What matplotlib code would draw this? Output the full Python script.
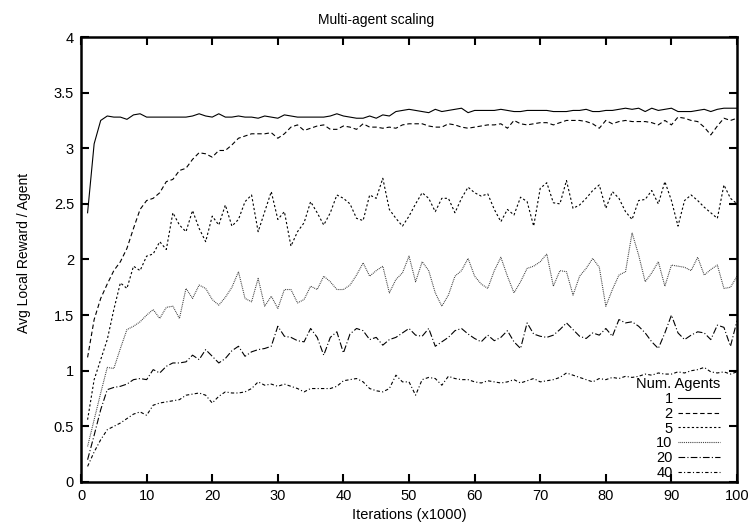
import matplotlib
matplotlib.use("Agg")
import matplotlib.pyplot as plt
from matplotlib.ticker import MultipleLocator, FormatStrFormatter

plt.rcParams['font.family'] = ['Liberation Sans', 'DejaVu Sans']

iters = list(range(1, 101))

agents = ["1", "2", "5", "10", "20", "40"]

s1 = [2.42, 3.04, 3.25, 3.29, 3.28, 3.28, 3.26, 3.30, 3.31, 3.28,
      3.28, 3.28, 3.28, 3.28, 3.28, 3.28, 3.29, 3.31, 3.29, 3.28,
      3.31, 3.28, 3.28, 3.29, 3.28, 3.28, 3.27, 3.29, 3.28, 3.27,
      3.30, 3.29, 3.28, 3.28, 3.28, 3.28, 3.28, 3.29, 3.31, 3.29,
      3.28, 3.27, 3.27, 3.29, 3.27, 3.30, 3.29, 3.33, 3.34, 3.35,
      3.34, 3.33, 3.32, 3.35, 3.33, 3.34, 3.35, 3.36, 3.32, 3.34,
      3.34, 3.34, 3.34, 3.35, 3.34, 3.33, 3.33, 3.34, 3.34, 3.34,
      3.34, 3.33, 3.33, 3.33, 3.34, 3.34, 3.35, 3.33, 3.33, 3.34,
      3.34, 3.35, 3.36, 3.35, 3.36, 3.33, 3.36, 3.34, 3.35, 3.36,
      3.33, 3.33, 3.33, 3.34, 3.35, 3.33, 3.35, 3.36, 3.36, 3.36]

s2 = [1.12, 1.46, 1.65, 1.78, 1.90, 1.98, 2.10, 2.28, 2.45, 2.53,
      2.55, 2.60, 2.70, 2.72, 2.80, 2.82, 2.90, 2.96, 2.95, 2.92,
      2.98, 2.98, 3.03, 3.09, 3.11, 3.13, 3.13, 3.13, 3.14, 3.09,
      3.13, 3.19, 3.21, 3.16, 3.18, 3.20, 3.21, 3.17, 3.17, 3.20,
      3.19, 3.17, 3.22, 3.19, 3.19, 3.18, 3.19, 3.18, 3.21, 3.22,
      3.22, 3.22, 3.20, 3.19, 3.19, 3.22, 3.21, 3.19, 3.18, 3.19,
      3.20, 3.21, 3.21, 3.22, 3.18, 3.25, 3.22, 3.21, 3.22, 3.23,
      3.23, 3.21, 3.23, 3.25, 3.25, 3.25, 3.24, 3.22, 3.18, 3.25,
      3.22, 3.24, 3.25, 3.24, 3.24, 3.24, 3.23, 3.21, 3.25, 3.21,
      3.28, 3.27, 3.25, 3.24, 3.19, 3.12, 3.20, 3.27, 3.25, 3.27]

s5 = [0.56, 0.92, 1.10, 1.28, 1.55, 1.79, 1.74, 1.94, 1.90, 2.03,
      2.05, 2.16, 2.09, 2.42, 2.31, 2.25, 2.44, 2.28, 2.16, 2.39,
      2.31, 2.49, 2.30, 2.36, 2.52, 2.58, 2.25, 2.43, 2.61, 2.36,
      2.43, 2.12, 2.25, 2.33, 2.52, 2.42, 2.31, 2.42, 2.58, 2.55,
      2.50, 2.37, 2.35, 2.58, 2.55, 2.73, 2.45, 2.37, 2.30, 2.39,
      2.50, 2.60, 2.55, 2.43, 2.55, 2.55, 2.42, 2.55, 2.65, 2.60,
      2.57, 2.59, 2.45, 2.34, 2.45, 2.40, 2.56, 2.52, 2.30, 2.64,
      2.69, 2.51, 2.50, 2.71, 2.46, 2.49, 2.55, 2.62, 2.67, 2.46,
      2.61, 2.55, 2.43, 2.36, 2.53, 2.54, 2.62, 2.50, 2.70, 2.53,
      2.30, 2.53, 2.58, 2.53, 2.47, 2.42, 2.37, 2.67, 2.55, 2.50]

s10 = [0.32, 0.56, 0.80, 1.03, 1.02, 1.20, 1.37, 1.40, 1.44, 1.50,
       1.55, 1.47, 1.57, 1.58, 1.47, 1.74, 1.65, 1.77, 1.74, 1.64,
       1.59, 1.66, 1.75, 1.89, 1.65, 1.62, 1.83, 1.58, 1.67, 1.56,
       1.73, 1.73, 1.61, 1.64, 1.76, 1.73, 1.85, 1.80, 1.73, 1.73,
       1.77, 1.86, 1.97, 1.85, 1.90, 1.94, 1.70, 1.82, 1.88, 2.03,
       1.80, 1.98, 1.90, 1.70, 1.58, 1.68, 1.85, 1.90, 2.01, 1.85,
       1.78, 1.74, 1.90, 2.02, 1.85, 1.70, 1.80, 1.92, 1.94, 1.98,
       2.05, 1.76, 1.90, 1.89, 1.68, 1.85, 1.92, 2.01, 1.93, 1.58,
       1.73, 1.86, 1.89, 2.24, 2.04, 1.80, 1.88, 1.98, 1.76, 1.95,
       1.94, 1.93, 1.90, 2.02, 1.86, 1.91, 1.95, 1.74, 1.75, 1.85]

s20 = [0.20, 0.42, 0.65, 0.83, 0.85, 0.86, 0.88, 0.92, 0.93, 0.92,
       1.01, 0.98, 1.04, 1.07, 1.07, 1.08, 1.14, 1.10, 1.19, 1.13,
       1.07, 1.11, 1.18, 1.22, 1.13, 1.17, 1.19, 1.20, 1.22, 1.40,
       1.31, 1.30, 1.27, 1.26, 1.38, 1.30, 1.14, 1.30, 1.35, 1.16,
       1.33, 1.38, 1.36, 1.28, 1.30, 1.23, 1.28, 1.30, 1.34, 1.38,
       1.32, 1.31, 1.38, 1.22, 1.26, 1.30, 1.36, 1.38, 1.33, 1.29,
       1.26, 1.32, 1.27, 1.30, 1.36, 1.26, 1.20, 1.43, 1.33, 1.31,
       1.30, 1.32, 1.37, 1.43, 1.37, 1.31, 1.29, 1.34, 1.32, 1.38,
       1.31, 1.46, 1.43, 1.44, 1.40, 1.34, 1.26, 1.20, 1.34, 1.50,
       1.34, 1.28, 1.32, 1.35, 1.34, 1.28, 1.41, 1.39, 1.22, 1.45]

s40 = [0.14, 0.27, 0.38, 0.47, 0.50, 0.53, 0.57, 0.61, 0.63, 0.60,
       0.69, 0.71, 0.72, 0.73, 0.74, 0.78, 0.79, 0.80, 0.78, 0.71,
       0.77, 0.81, 0.80, 0.80, 0.81, 0.84, 0.90, 0.87, 0.88, 0.86,
       0.88, 0.86, 0.84, 0.81, 0.84, 0.84, 0.84, 0.84, 0.86, 0.91,
       0.92, 0.93, 0.90, 0.84, 0.82, 0.81, 0.84, 0.96, 0.90, 0.90,
       0.78, 0.92, 0.94, 0.93, 0.87, 0.95, 0.93, 0.92, 0.92, 0.90,
       0.89, 0.91, 0.90, 0.89, 0.90, 0.92, 0.89, 0.91, 0.93, 0.90,
       0.91, 0.92, 0.94, 0.98, 0.96, 0.94, 0.92, 0.90, 0.93, 0.92,
       0.94, 0.93, 0.95, 0.94, 0.95, 0.97, 0.96, 0.98, 0.97, 0.97,
       0.99, 0.98, 1.00, 1.01, 1.03, 0.99, 0.98, 0.99, 0.97, 0.99]

series = [s1, s2, s5, s10, s20, s40]
styles = ["-", (0, (4, 2.5)), (0, (2, 2)), (0, (0.8, 0.9)),
          (0, (6, 2, 1, 2)), (0, (3, 2, 1, 2))]
colors = ["black", "black", "black", "#333333", "black", "black"]

fig = plt.figure(figsize=(7.53, 5.31), dpi=100)
ax = fig.add_axes([0.1076, 0.0923, 0.8712, 0.838])

for vals, name, ls, c in zip(series, agents, styles, colors):
    ax.plot(iters, vals, color=c, linestyle=ls, linewidth=0.8, label=name)

ax.set_xlim(0, 100)
ax.set_ylim(0, 4)
ax.xaxis.set_major_locator(MultipleLocator(10))
ax.yaxis.set_major_locator(MultipleLocator(0.5))
ax.yaxis.set_major_formatter(FormatStrFormatter('%g'))
ax.tick_params(direction="in", length=6, width=1.5, top=True, right=True,
               labelsize=10.5, pad=5)
for sp in ax.spines.values():
    sp.set_linewidth(1.8)

# gnuplot centres the title on the whole canvas
fig.text(0.5, 0.962, "Multi-agent scaling", ha="center", va="center", fontsize=10)
ax.set_xlabel("Iterations (x1000)", fontsize=10.5, labelpad=4)
ax.set_ylabel("Avg Local Reward / Agent", fontsize=10)
ax.yaxis.set_label_coords(-0.077, 0.515)

leg = ax.legend(loc="lower right", bbox_to_anchor=(0.974, 0.004),
                markerfirst=False, frameon=False,
                title="Num. Agents", alignment="right", fontsize=10.5,
                title_fontsize=10.5, handlelength=2.9, handletextpad=0.35,
                labelspacing=0.06, borderaxespad=0, borderpad=0)

fig.savefig("out.png", dpi=100)
